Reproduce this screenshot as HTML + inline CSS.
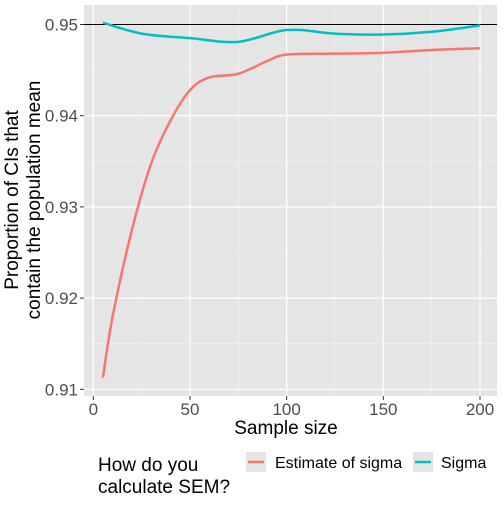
<!DOCTYPE html>
<html><head><meta charset="utf-8"><style>
body{margin:0;background:#fff;font-family:"Liberation Sans",Arial,sans-serif}
svg text{font-family:"Liberation Sans",Arial,sans-serif}
</style></head><body>
<svg id="chart" width="504" height="504" xmlns="http://www.w3.org/2000/svg">
<rect x="84" y="5" width="413" height="391" fill="#e5e5e5"/>
<g id="grid"></g>
<g id="series"></g>
<g id="axes"></g>
<text x="286" y="434" font-size="19" text-anchor="middle" fill="#000">Sample size</text>
<text transform="translate(21,200) rotate(-90)" font-size="19" text-anchor="middle" fill="#000"><tspan x="0" dy="-3">Proportion of CIs that</tspan><tspan x="0" dy="22">contain the population mean</tspan></text>
<g>
<text x="98" y="471" font-size="19" fill="#000">How do you</text>
<text x="98" y="493" font-size="19" fill="#000">calculate SEM?</text>
<rect x="246" y="452" width="20" height="20" fill="#e5e5e5"/>
<line x1="248" y1="462" x2="264" y2="462" stroke="#F8766D" stroke-width="2.5"/>
<text x="275" y="468" font-size="16" fill="#000">Estimate of sigma</text>
<rect x="413" y="452" width="20" height="20" fill="#e5e5e5"/>
<line x1="415" y1="462" x2="431" y2="462" stroke="#00BFC4" stroke-width="2.5"/>
<text x="441" y="468" font-size="16" fill="#000">Sigma</text>
</g>
</svg>
<script>
const xTicks=[0,50,100,150,200];
const yTicks=[0.91,0.92,0.93,0.94,0.95];
const estX=[5,10,20,30,40,50,60,75,90,100,125,150,175,200];
const estY=[0.9113,0.918,0.9275,0.9348,0.9395,0.9428,0.9442,0.9446,0.946,0.9467,0.9468,0.9469,0.9472,0.9474];
const sigX=[5,25,50,75,100,125,150,175,200];
const sigY=[0.9502,0.9490,0.9485,0.9481,0.9494,0.9490,0.9489,0.9492,0.9499];
const refLine=0.95;
const L=84,R=497,T=5,B=396;
const sx=v=>93.3+(v-0)*(480-93.3)/200;
const sy=v=>24.5+(0.95-v)*9120;
const NS="http://www.w3.org/2000/svg";
function mk(tag,attrs,parent){const e=document.createElementNS(NS,tag);for(const k in attrs)e.setAttribute(k,attrs[k]);parent.appendChild(e);return e;}
const grid=document.getElementById('grid'),axes=document.getElementById('axes'),ser=document.getElementById('series');
for(let i=0;i<xTicks.length;i++){
 if(i<xTicks.length-1){const m=mk('line',{x1:sx((xTicks[i]+xTicks[i+1])/2),x2:sx((xTicks[i]+xTicks[i+1])/2),y1:T,y2:B,stroke:'#f2f2f2','stroke-width':0.6},grid);
 
 }
 const g=mk('line',{x1:sx(xTicks[i]),x2:sx(xTicks[i]),y1:T,y2:B,stroke:'#fff','stroke-width':1.2},grid);
 
 
 mk('line',{x1:sx(xTicks[i]),x2:sx(xTicks[i]),y1:B,y2:B+4,stroke:'#333'},axes);
 const t=mk('text',{x:sx(xTicks[i]),y:B+19,'font-size':17,'text-anchor':'middle',fill:'#4d4d4d'},axes);
 t.textContent=xTicks[i];
 
 
}
for(let i=0;i<yTicks.length;i++){
 if(i<yTicks.length-1){const m=mk('line',{x1:L,x2:R,y1:sy((yTicks[i]+yTicks[i+1])/2),y2:sy((yTicks[i]+yTicks[i+1])/2),stroke:'#f2f2f2','stroke-width':0.6},grid);
 
 }
 const g=mk('line',{x1:L,x2:R,y1:sy(yTicks[i]),y2:sy(yTicks[i]),stroke:'#fff','stroke-width':1.2},grid);
 
 
 mk('line',{x1:L-4,x2:L,y1:sy(yTicks[i]),y2:sy(yTicks[i]),stroke:'#333'},axes);
 const t=mk('text',{x:L-6,y:sy(yTicks[i])+6,'font-size':17,'text-anchor':'end',fill:'#4d4d4d'},axes);
 t.textContent=yTicks[i].toFixed(2);
 
 
}
const ref=mk('line',{x1:L,x2:R,y1:sy(refLine),y2:sy(refLine),stroke:'#000','stroke-width':1},ser);


function path(xs,ys){
 const p=xs.map((x,i)=>[sx(x),sy(ys[i])]);
 let d='M'+p[0][0]+','+p[0][1];
 for(let i=0;i<p.length-1;i++){
  const p0=p[Math.max(0,i-1)],p1=p[i],p2=p[i+1],p3=p[Math.min(p.length-1,i+2)];
  const c1=[p1[0]+(p2[0]-p0[0])/6,p1[1]+(p2[1]-p0[1])/6],c2=[p2[0]-(p3[0]-p1[0])/6,p2[1]-(p3[1]-p1[1])/6];
  d+=' C'+c1+' '+c2+' '+p2;
 }
 return d;
}
const l1=mk('path',{d:path(estX,estY),fill:'none',stroke:'#F8766D','stroke-width':2.5},ser);


const l2=mk('path',{d:path(sigX,sigY),fill:'none',stroke:'#00BFC4','stroke-width':2.5},ser);


</script>
</body></html>
